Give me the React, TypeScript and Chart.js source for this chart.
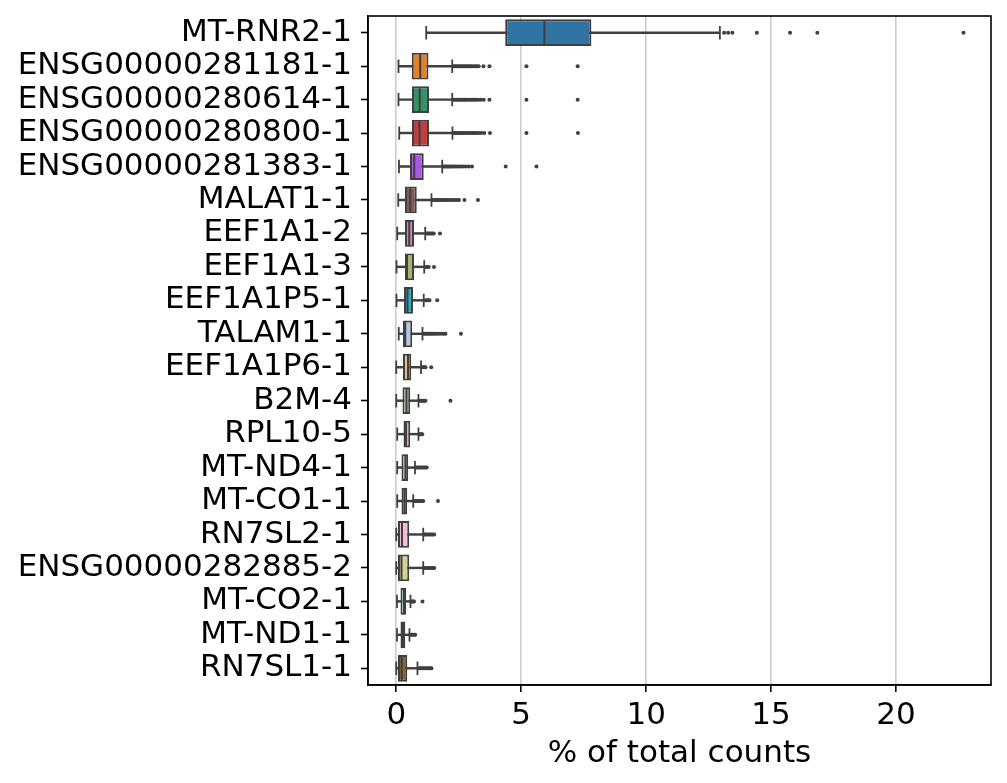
import React, { useEffect, useRef } from 'react';
import { Chart, registerables } from 'chart.js';

Chart.register(...registerables);

// Genes ranked by their share of total counts (top = highest).
const genes = [
  'MT-RNR2-1',
  'ENSG00000281181-1',
  'ENSG00000280614-1',
  'ENSG00000280800-1',
  'ENSG00000281383-1',
  'MALAT1-1',
  'EEF1A1-2',
  'EEF1A1-3',
  'EEF1A1P5-1',
  'TALAM1-1',
  'EEF1A1P6-1',
  'B2M-4',
  'RPL10-5',
  'MT-ND4-1',
  'MT-CO1-1',
  'RN7SL2-1',
  'ENSG00000282885-2',
  'MT-CO2-1',
  'MT-ND1-1',
  'RN7SL1-1',
];

// Box-plot summary per gene (% of total counts).
const whiskerLow = [1.2, 0.09, 0.09, 0.12, 0.11, 0.08, 0.04, 0.01, 0.01, 0.1, 0.0, 0.0, 0.04, 0.04, 0.04, 0.0, 0.0, 0.03, 0.03, 0.0];
const q1 = [4.36, 0.62, 0.63, 0.63, 0.55, 0.35, 0.35, 0.35, 0.31, 0.27, 0.27, 0.25, 0.29, 0.21, 0.21, 0.07, 0.07, 0.17, 0.17, 0.07];
const median = [5.93, 0.96, 0.94, 0.93, 0.72, 0.56, 0.52, 0.43, 0.45, 0.36, 0.47, 0.41, 0.39, 0.37, 0.33, 0.23, 0.21, 0.31, 0.27, 0.22];
const q3 = [7.81, 1.29, 1.31, 1.31, 1.1, 0.82, 0.71, 0.71, 0.67, 0.64, 0.6, 0.56, 0.56, 0.48, 0.44, 0.52, 0.52, 0.4, 0.36, 0.44];
const whiskerHigh = [12.95, 2.24, 2.24, 2.25, 1.84, 1.41, 1.16, 1.12, 1.1, 1.05, 0.99, 0.89, 0.89, 0.75, 0.68, 1.08, 1.08, 0.57, 0.53, 0.85];

// Flier values beyond the whiskers.
const outliers = [
  [13.12, 13.28, 13.45, 14.43, 15.76, 16.85, 22.7],
  [2.3, 2.36, 2.42, 2.48, 2.54, 2.6, 2.66, 2.72, 2.78, 2.84, 2.9, 2.96, 3.02, 3.1, 3.17, 3.23, 3.3, 3.49, 3.73, 5.21, 7.26],
  [2.3, 2.36, 2.42, 2.48, 2.54, 2.6, 2.66, 2.72, 2.78, 2.85, 2.92, 2.99, 3.06, 3.13, 3.2, 3.28, 3.38, 3.5, 3.73, 5.21, 7.26],
  [2.31, 2.37, 2.43, 2.49, 2.55, 2.61, 2.67, 2.73, 2.79, 2.86, 2.93, 3.0, 3.07, 3.14, 3.22, 3.3, 3.4, 3.52, 3.75, 5.21, 7.27],
  [1.9, 1.96, 2.02, 2.08, 2.14, 2.2, 2.27, 2.34, 2.42, 2.5, 2.58, 2.68, 2.78, 2.9, 3.03, 4.38, 5.61],
  [1.46, 1.52, 1.58, 1.64, 1.7, 1.76, 1.82, 1.88, 1.95, 2.02, 2.1, 2.18, 2.27, 2.36, 2.45, 2.51, 2.73, 3.27],
  [1.22, 1.27, 1.32, 1.38, 1.44, 1.5, 1.75],
  [1.2, 1.25, 1.3, 1.51],
  [1.18, 1.23, 1.28, 1.33, 1.64],
  [1.1, 1.16, 1.22, 1.28, 1.34, 1.4, 1.47, 1.54, 1.62, 1.7, 1.8, 1.9, 1.97, 2.59],
  [1.03, 1.08, 1.13, 1.17, 1.4],
  [0.93, 0.98, 1.03, 1.08, 1.13, 1.17, 2.17],
  [0.92, 0.96, 1.0, 1.04],
  [0.8, 0.86, 0.92, 0.98, 1.04, 1.1, 1.16, 1.22],
  [0.72, 0.78, 0.84, 0.9, 0.96, 1.02, 1.08, 1.67],
  [1.12, 1.17, 1.22, 1.28, 1.34, 1.4, 1.46, 1.52],
  [1.12, 1.18, 1.24, 1.3, 1.36, 1.42, 1.48, 1.52],
  [0.6, 0.64, 0.68, 0.71, 1.05],
  [0.56, 0.61, 0.66, 0.71, 0.76],
  [0.9, 0.96, 1.02, 1.08, 1.14, 1.2, 1.26, 1.32, 1.38, 1.41],
];

const xTicks = [0, 5, 10, 15, 20];
const xTitle = '% of total counts';

// 20-colour categorical palette, one colour per gene.
const palette = [
  '#1f77b4', '#ff7f0e', '#279e68', '#d62728', '#aa40fc',
  '#8c564b', '#e377c2', '#b5bd61', '#17becf', '#aec7e8',
  '#ffbb78', '#98df8a', '#ff9896', '#c5b0d5', '#c49c94',
  '#f7b6d2', '#dbdb8d', '#9edae5', '#ad494a', '#8c6d31',
];

const LINE = '#3f3f3f';
const FONT = { family: '"DejaVu Sans", sans-serif', size: 31 };

// Reduce HLS saturation of a colour (box fills are slightly muted).
function desaturate(hex: string, prop: number): string {
  const r = parseInt(hex.slice(1, 3), 16) / 255;
  const g = parseInt(hex.slice(3, 5), 16) / 255;
  const b = parseInt(hex.slice(5, 7), 16) / 255;
  const max = Math.max(r, g, b);
  const min = Math.min(r, g, b);
  const l = (max + min) / 2;
  const d = max - min;
  if (d === 0) return hex;
  const s = d / (1 - Math.abs(2 * l - 1));
  let h: number;
  if (max === r) h = ((g - b) / d) % 6;
  else if (max === g) h = (b - r) / d + 2;
  else h = (r - g) / d + 4;
  h = (h * 60 + 360) % 360;
  const s2 = s * prop;
  const c = (1 - Math.abs(2 * l - 1)) * s2;
  const x = c * (1 - Math.abs(((h / 60) % 2) - 1));
  const m = l - c / 2;
  let rgb: number[];
  if (h < 60) rgb = [c, x, 0];
  else if (h < 120) rgb = [x, c, 0];
  else if (h < 180) rgb = [0, c, x];
  else if (h < 240) rgb = [0, x, c];
  else if (h < 300) rgb = [x, 0, c];
  else rgb = [c, 0, x];
  return '#' + rgb.map((v) => Math.round((v + m) * 255).toString(16).padStart(2, '0')).join('');
}

// Black frame around the plot area.
const framePlugin = {
  id: 'plotFrame',
  afterDraw(chart: any) {
    const { ctx, chartArea: a } = chart;
    ctx.save();
    ctx.strokeStyle = '#000';
    ctx.lineWidth = 1.6;
    ctx.strokeRect(a.left, a.top, a.right - a.left, a.bottom - a.top);
    ctx.restore();
  },
};

export default function App() {
  const canvasRef = useRef<HTMLCanvasElement | null>(null);

  useEffect(() => {
    const canvas = canvasRef.current;
    if (!canvas) return;

    const fills = palette.map((c) => desaturate(c, 0.75));
    const caps = genes.flatMap((g, i) => [
      { x: whiskerLow[i], y: g },
      { x: whiskerHigh[i], y: g },
    ]);
    const medians = genes.map((g, i) => ({ x: median[i], y: g }));
    const fliers = genes.flatMap((g, i) => outliers[i].map((v) => ({ x: v, y: g })));

    const chart = new Chart(canvas, {
      type: 'bar',
      data: {
        labels: genes,
        datasets: [
          {
            type: 'bar',
            label: 'whiskers',
            data: genes.map((_, i) => [whiskerLow[i], whiskerHigh[i]]),
            backgroundColor: LINE,
            barThickness: 1.8,
            grouped: false,
            order: 3,
          } as any,
          {
            type: 'bar',
            label: 'boxes',
            data: genes.map((_, i) => [q1[i], q3[i]]),
            backgroundColor: fills,
            borderColor: LINE,
            borderWidth: 2,
            borderSkipped: false,
            barPercentage: 0.8,
            categoryPercentage: 1,
            grouped: false,
            order: 2,
          } as any,
          {
            type: 'line',
            label: 'caps',
            data: caps,
            showLine: false,
            pointStyle: 'line',
            pointRadius: 6.7,
            pointHoverRadius: 6.7,
            pointRotation: 90,
            pointBorderColor: LINE,
            pointBorderWidth: 1.8,
            order: 1,
          } as any,
          {
            type: 'line',
            label: 'medians',
            data: medians,
            showLine: false,
            pointStyle: 'line',
            pointRadius: 12.8,
            pointHoverRadius: 12.8,
            pointRotation: 90,
            pointBorderColor: LINE,
            pointBorderWidth: 2,
            order: 1,
          } as any,
          {
            type: 'line',
            label: 'outliers',
            data: fliers,
            showLine: false,
            pointStyle: 'circle',
            pointRadius: 2,
            pointHoverRadius: 2,
            pointBackgroundColor: LINE,
            pointBorderWidth: 0,
            order: 0,
          } as any,
        ],
      },
      options: {
        indexAxis: 'y',
        responsive: false,
        animation: false,
        events: [],
        layout: { padding: { top: 16, right: 16, left: 0, bottom: 0 } },
        plugins: {
          legend: { display: false },
          tooltip: { enabled: false },
        },
        scales: {
          x: {
            type: 'linear',
            min: -1.13,
            max: 23.8,
            afterBuildTicks: (s: any) => {
              s.ticks = xTicks.map((v) => ({ value: v }));
            },
            afterFit: (s: any) => {
              s.height = 98;
              s.paddingLeft = 0;
              s.paddingRight = 0;
            },
            grid: {
              color: '#cccccc',
              lineWidth: 1.6,
              tickColor: '#000',
              tickLength: 7,
              tickWidth: 1.6,
            },
            border: { color: '#000', width: 1.6 },
            ticks: { color: '#000', padding: 5, font: FONT },
            title: {
              display: true,
              text: xTitle,
              color: '#000',
              font: FONT,
              padding: { top: 0, bottom: 10 },
            },
          },
          y: {
            type: 'category',
            afterFit: (s: any) => {
              s.width = 368;
              s.paddingTop = 0;
              s.paddingBottom = 0;
            },
            grid: {
              display: true,
              drawOnChartArea: false,
              offset: false,
              tickColor: '#000',
              tickLength: 7,
              tickWidth: 1.6,
            },
            border: { color: '#000', width: 1.6 },
            ticks: { color: '#000', padding: 9, font: FONT, autoSkip: false },
          },
        },
      } as any,
      plugins: [framePlugin],
    });

    return () => chart.destroy();
  }, []);

  return (
    <div style={{ position: 'fixed', left: 0, top: 0, width: 1007, height: 783, background: '#fff' }}>
      <canvas ref={canvasRef} width={1007} height={783} style={{ display: 'block' }} />
    </div>
  );
}
